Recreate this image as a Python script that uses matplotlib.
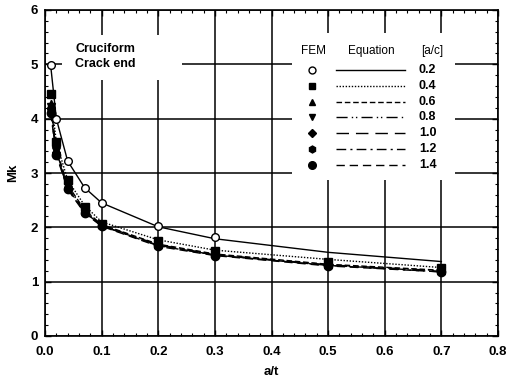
import numpy as np
import matplotlib
matplotlib.use("Agg")
import matplotlib.pyplot as plt
from matplotlib.ticker import MultipleLocator
from matplotlib.patches import Rectangle

plt.rcParams['font.family'] = ['Liberation Sans', 'DejaVu Sans']
plt.rcParams['font.weight'] = 'bold'

# -----------------------------
# data
# -----------------------------
a_t = [0.01, 0.02, 0.04, 0.07, 0.1, 0.2, 0.3, 0.5, 0.7]
a_c = ["0.2", "0.4", "0.6", "0.8", "1.0", "1.2", "1.4"]

# FEM points (0.2 has no points past 0.3)
fem_02 = [4.98, 4.00, 3.22, 2.73, 2.45, 2.02, 1.83]
fem_04 = [4.45, 3.57, 2.87, 2.38, 2.07, 1.75, 1.56, 1.37, 1.25]
fem_06 = [4.27, 3.44, 2.78, 2.32, 2.06, 1.70, 1.52, 1.33, 1.21]
fem_08 = [4.22, 3.40, 2.75, 2.30, 2.05, 1.68, 1.51, 1.32, 1.20]
fem_10 = [4.17, 3.37, 2.73, 2.28, 2.04, 1.67, 1.50, 1.31, 1.19]
fem_12 = [4.14, 3.35, 2.72, 2.27, 2.03, 1.66, 1.49, 1.30, 1.18]
fem_14 = [4.11, 3.33, 2.70, 2.26, 2.02, 1.65, 1.48, 1.29, 1.18]

# Equation curves
eq_02 = [4.98, 4.00, 3.22, 2.73, 2.45, 2.01, 1.79, 1.54, 1.37]
eq_04 = [4.45, 3.57, 2.87, 2.40, 2.10, 1.77, 1.58, 1.41, 1.26]
eq_06 = [4.27, 3.44, 2.78, 2.32, 2.05, 1.69, 1.51, 1.32, 1.21]
eq_08 = [4.22, 3.40, 2.75, 2.30, 2.04, 1.68, 1.50, 1.31, 1.20]
eq_10 = [4.17, 3.37, 2.73, 2.28, 2.03, 1.67, 1.49, 1.30, 1.19]
eq_12 = [4.14, 3.35, 2.72, 2.27, 2.03, 1.66, 1.49, 1.30, 1.18]
eq_14 = [4.11, 3.33, 2.70, 2.26, 2.02, 1.65, 1.48, 1.29, 1.18]

fem = [fem_02, fem_04, fem_06, fem_08, fem_10, fem_12, fem_14]
eqs = [eq_02, eq_04, eq_06, eq_08, eq_10, eq_12, eq_14]

markers = ['o', 's', '^', 'v', 'D', 'h', 'o']
msizes = [5.5, 5.5, 5.5, 5.5, 4.5, 5.5, 6]
styles = ['-', (0, (1, 1.2)), (0, (4, 2)), (0, (8, 3, 1, 2, 1, 3)),
          (0, (9, 5)), (0, (7, 3, 1.5, 3)), (0, (6, 3.5))]

# -----------------------------
# plot
# -----------------------------
fig = plt.figure(figsize=(5.08, 3.85), dpi=100)
ax = fig.add_axes([45 / 508, 49 / 385, 453 / 508, 326 / 385])

for i in range(len(a_c)):
    ax.plot(a_t[:len(eqs[i])], eqs[i], color='black', lw=1.0, ls=styles[i], zorder=3)
for i in range(len(a_c)):
    face = 'white' if i == 0 else 'black'
    ax.plot(a_t[:len(fem[i])], fem[i], ls='none', marker=markers[i], ms=msizes[i],
            mfc=face, mec='black', mew=1.0, zorder=4)

ax.set_xlim(0, 0.8)
ax.set_ylim(0, 6)
ax.xaxis.set_major_locator(MultipleLocator(0.1))
ax.xaxis.set_minor_locator(MultipleLocator(0.02))
ax.yaxis.set_major_locator(MultipleLocator(1))
ax.yaxis.set_minor_locator(MultipleLocator(0.2))
ax.xaxis.set_major_formatter(matplotlib.ticker.FormatStrFormatter('%.1f'))
ax.tick_params(which='both', direction='in', top=True, right=True, labelsize=9.5)
ax.tick_params(which='major', length=4, width=1)
ax.tick_params(which='minor', length=2.5, width=0.8)
ax.tick_params(axis='x', which='major', pad=7)
ax.tick_params(axis='y', which='major', pad=5)
ax.grid(True, which='major', color='black', lw=1.1, zorder=0)
for s in ax.spines.values():
    s.set_linewidth(1.2)

ax.set_xlabel("a/t", fontsize=9.5, fontweight='bold', labelpad=6)
ax.set_ylabel("Mk", fontsize=9.5, fontweight='bold', labelpad=8)

# text block (white box hides the grid)
tr = ax.transAxes
ax.add_patch(Rectangle((17 / 453, (336 - 80) / 326), 120 / 453, 45 / 326,
                       transform=tr, facecolor='white', edgecolor='none', zorder=2))
ax.text(30 / 453, (336 - 49) / 326, "Cruciform", transform=tr, fontsize=9,
        fontweight='bold', va='center', zorder=5)
ax.text(30 / 453, (336 - 64) / 326, "Crack end", transform=tr, fontsize=9,
        fontweight='bold', va='center', zorder=5)

# legend box
ax.add_patch(Rectangle((247 / 453, (336 - 180) / 326), 163 / 453, 147 / 326,
                       transform=tr, facecolor='white', edgecolor='none', zorder=2))
hy = (336 - 51) / 326
ax.text((313 - 45) / 453, hy, "FEM", transform=tr, fontsize=8.5, ha='center', va='center',
        fontweight='normal', zorder=5)
ax.text((371 - 45) / 453, hy, "Equation", transform=tr, fontsize=8.5, ha='center',
        va='center', fontweight='normal', zorder=5)
ax.text((432 - 45) / 453, hy, "[a/c]", transform=tr, fontsize=8.5, ha='center',
        va='center', fontweight='normal', zorder=5)
for i, lab in enumerate(a_c):
    ry = (336 - (70 + 15.8 * i)) / 326
    face = 'white' if i == 0 else 'black'
    ax.plot([(312 - 45) / 453], [ry], transform=tr, marker=markers[i], ms=msizes[i] - 0.5,
            mfc=face, mec='black', mew=1.0, ls='none', zorder=5, clip_on=False)
    ax.plot([(336 - 45) / 453, (405 - 45) / 453], [ry, ry], transform=tr,
            color='black', lw=1.0, ls=styles[i], zorder=5)
    ax.text((419 - 45) / 453, ry, lab, transform=tr, fontsize=9, fontweight='bold',
            va='center', zorder=5)

fig.savefig("out.png", dpi=100)
